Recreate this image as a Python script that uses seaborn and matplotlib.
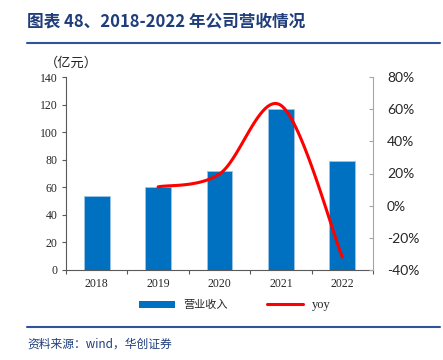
import numpy as np
import pandas as pd
import matplotlib
matplotlib.use("Agg")
import matplotlib.pyplot as plt
from matplotlib.lines import Line2D
from matplotlib.patches import Patch
from matplotlib.ticker import FuncFormatter, FixedLocator
import seaborn as sns

# ---- data ----
years = ["2018", "2019", "2020", "2021", "2022"]
revenue = [53.7, 60.0, 71.8, 116.6, 79.3]
yoy = [np.nan, 11.7, 19.7, 62.4, -32.0]
left_ticks = [0, 20, 40, 60, 80, 100, 120, 140]
right_ticks = [-40, -20, 0, 20, 40, 60, 80]

sns.set_theme(style="white")
plt.rcParams['font.family'] = ['Noto Sans CJK SC', 'DejaVu Sans']

BAR = "#0070C0"
NAVY = "#1F3D7A"

fig = plt.figure(figsize=(4.43, 3.6), dpi=100)
ax = fig.add_axes([66/443, 90/360, 307/443, 193/360])

df = pd.DataFrame({"year": years, "rev": revenue})
sns.barplot(data=df, x="year", y="rev", color=BAR, width=0.42, ax=ax,
            edgecolor="#9DC3E6", linewidth=0.6, saturation=1)
ax.set_xlim(-0.5, 4.5)
ax.set_ylim(0, 140)
ax.set_yticks(left_ticks)
ax.set_xlabel("")
ax.set_ylabel("")
for s in ["top", "right"]:
    ax.spines[s].set_visible(False)
ax.spines["left"].set_color("#595959")
ax.spines["bottom"].set_color("#595959")
ax.spines["left"].set_linewidth(0.8)
ax.spines["bottom"].set_linewidth(0.8)
ax.tick_params(axis="y", direction="out", length=3, width=0.8, color="#595959",
               labelsize=8.5, pad=3, left=True)
ax.tick_params(axis="x", which="major", length=0, labelsize=8.5, pad=6, bottom=True)
ax.xaxis.set_minor_locator(FixedLocator([-0.5, 0.5, 1.5, 2.5, 3.5, 4.5]))
ax.tick_params(axis="x", which="minor", direction="out", length=3, width=0.8,
               color="#595959", bottom=True)
for lab in ax.get_yticklabels() + ax.get_xticklabels():
    lab.set_fontfamily("Liberation Serif")
ax.grid(False)

# secondary axis with smoothed yoy line
ax2 = ax.twinx()
ax2.set_ylim(-40, 80)
ax2.set_yticks(right_ticks)
ax2.yaxis.set_major_formatter(FuncFormatter(lambda v, p: f"{int(v)}%"))
for s in ["top", "left", "bottom"]:
    ax2.spines[s].set_visible(False)
ax2.spines["right"].set_color("#A6A6A6")
ax2.spines["right"].set_linewidth(0.8)
ax2.tick_params(axis="y", direction="in", length=3, width=0.8, color="#A6A6A6",
                labelsize=10, pad=10, right=True)
for lab in ax2.get_yticklabels():
    lab.set_fontfamily("Lato")
ax2.grid(False)

pts = np.array([(i, v) for i, v in enumerate(yoy) if not np.isnan(v)], dtype=float)
curve = []
n = len(pts)
for k in range(n - 1):
    p0 = pts[max(k - 1, 0)]
    p1 = pts[k]
    p2 = pts[k + 1]
    p3 = pts[min(k + 2, n - 1)]
    c1 = p1 + (p2 - p0) / 6
    c2 = p2 - (p3 - p1) / 6
    t = np.linspace(0, 1, 40)[:, None]
    seg = ((1 - t) ** 3) * p1 + 3 * ((1 - t) ** 2) * t * c1 + 3 * (1 - t) * t ** 2 * c2 + t ** 3 * p2
    curve.append(seg if k == 0 else seg[1:])
curve = np.vstack(curve)
ax2.plot(curve[:, 0], curve[:, 1], color="#FF0000", lw=2.2, solid_capstyle="round")

# texts
fig.text(27/443, 1 - 22/360, "图表 48、2018-2022 年公司营收情况", fontsize=12,
         fontweight="bold", color=NAVY, va="center", ha="left")
fig.add_artist(Line2D([27/443, 440/443], [1 - 43/360, 1 - 43/360],
                      color="#2F5597", lw=1.5))
fig.text(45/443, 1 - 63/360, "（亿元）", fontsize=9.5, color="#222222",
         va="center", ha="left")
fig.add_artist(Line2D([27/443, 440/443], [1 - 327/360, 1 - 327/360],
                      color="#2F5597", lw=1.5))
fig.text(27/443, 1 - 344/360, "资料来源：wind，华创证券", fontsize=8.5,
         color=NAVY, va="center", ha="left", style="italic")

handles = [Patch(facecolor=BAR, edgecolor="none"),
           Line2D([0], [0], color="#FF0000", lw=2.2)]
leg = fig.legend(handles, ["营业收入", "yoy"], loc="center",
                 bbox_to_anchor=(0.53, 1 - 305/360), ncol=2, frameon=False,
                 fontsize=8, handlelength=3.2, handleheight=0.6,
                 columnspacing=3.5, handletextpad=0.8)
leg.get_texts()[1].set_fontfamily("Liberation Serif")
leg.get_texts()[1].set_fontsize(9)

fig.savefig("out.png", dpi=100)
